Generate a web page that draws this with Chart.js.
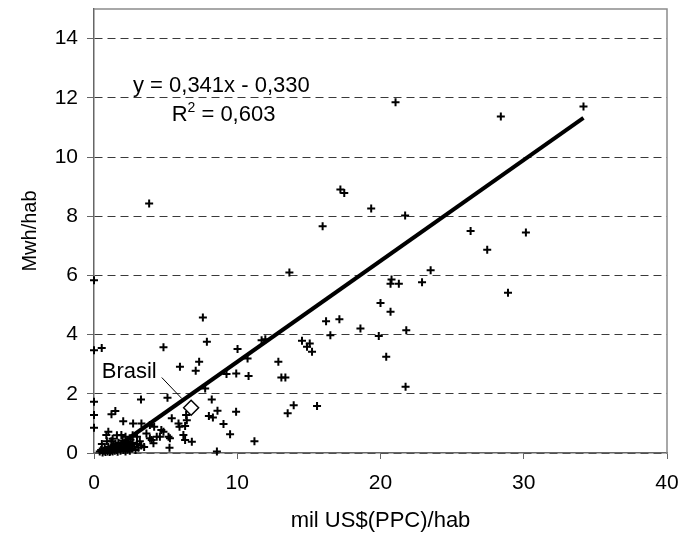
<!DOCTYPE html>
<html><head><meta charset="utf-8">
<script src="https://cdn.jsdelivr.net/npm/chart.js@4"></script>
<style>html,body{margin:0;padding:0;background:#fff}</style>
</head><body>
<canvas id="c" width="689" height="534"></canvas>
<script>
// ---- data ----
const gdpPerCapita = [
 21.05,28.4,34.17,3.85,17.2,17.47,19.35,15.96,21.72,26.29,30.15,27.45,23.5,22.9,20.77,20.7,21.28,28.9,13.64,0,
 20.0,20.7,16.2,17.13,18.6,16.5,19.88,21.8,14.52,14.87,15.06,15.22,20.4,12.87,13.08,13.36,21.75,13.94,13.52,15.57,11.7,11.96,
 7.6,7.88,6.0,7.34,7.1,10.02,10.72,9.25,9.93,10.79,7.76,8.22,8.62,8.02,8.3,9.92,9.04,9.5,11.2,8.58,
 6.43,6.48,6.36,6.24,6.36,6.83,4.85,5.13,5.43,5.9,5.97,4.85,5.2,4.38,4.03,4.15,5.27,3.9,4.2,
 0,0.54,0,0,0,3.28,1.22,1.49,2.04,2.73,3.31,1.0,0.86,1.21,1.91,3.66,3.9,4.6,5.3,4.7,
 0.4,0.5,0.6,0.7,0.75,0.8,0.9,0.95,1.0,1.05,1.1,1.15,1.2,1.25,1.3,1.35,1.4,1.45,1.5,1.55,1.6,1.65,1.7,1.75,1.8,1.85,1.9,1.95,
 2.0,2.05,2.1,2.15,2.2,2.25,2.3,2.35,2.4,2.45,2.5,2.55,2.6,2.65,2.7,2.8,2.9,3.0,3.1,3.2,3.3,0.55,0.9,1.3,2.7,2.2,1.6,3.5,3.0
];
const mwhPerCapita = [
 11.85,11.37,11.71,8.43,8.9,8.78,8.26,7.66,8.02,7.5,7.45,6.87,6.17,5.77,5.86,5.72,5.72,5.41,6.1,5.84,
 5.07,4.77,4.45,4.52,4.21,3.98,3.95,4.15,3.79,3.59,3.7,3.42,3.25,3.08,2.55,2.55,2.24,1.61,1.34,1.59,3.81,3.84,
 4.58,3.76,2.91,3.08,2.78,3.51,3.19,2.67,2.69,2.6,2.18,1.81,1.43,1.25,1.2,1.39,0.98,0.63,0.4,0.05,
 1.28,1.11,0.91,0.61,0.44,0.38,3.57,1.87,1.17,1.0,0.89,0.72,0.55,0.55,0.44,0.33,0.18,0.95,0.89,
 3.47,3.55,1.73,1.28,0.85,1.81,1.31,1.42,1.07,1.0,1.0,0.72,0.61,0.4,0.61,0.66,0.5,0.55,0.5,0.78,
 0.05,0.1,0.02,0.08,0.15,0.03,0.1,0.05,0.2,0.12,0.03,0.07,0.18,0.1,0.05,0.25,0.14,0.08,0.3,0.2,0.1,0.04,0.35,0.22,0.15,0.08,0.28,0.18,
 0.42,0.1,0.3,0.2,0.05,0.38,0.25,0.12,0.32,0.18,0.08,0.45,0.28,0.15,0.35,0.22,0.1,0.3,0.18,0.4,0.25,0.3,0.4,0.48,0.6,0.55,0.6,0.2,0.55
];
const brasilX = [6.78];
const brasilY = [1.53];
const trendX = [0.97, 34.17];
const trendY = [0.0, 11.32];
const leaderX = [4.73, 6.13];
const leaderY = [2.55, 1.84];
const xTickValues = [0, 10, 20, 30, 40];
const yTickValues = [0, 2, 4, 6, 8, 10, 12, 14];
const equationText = 'y = 0,341x - 0,330';
const r2Value = '0,603';
const brasilLabel = 'Brasil';
const xTitle = 'mil US$(PPC)/hab';
const yTitle = 'Mwh/hab';

// ---- annotation anchors (data units) ----
const eqAnchor = {x: 2.72, y: 12.18};
const r2Anchor = {x: 5.42, y: 11.21};
const brasilAnchor = {x: 0.54, y: 2.53};

const FONT = 'Liberation Sans';
const pts = gdpPerCapita.map((x, i) => ({x: x, y: mwhPerCapita[i]}));
const toXY = (xs, ys) => xs.map((x, i) => ({x: x, y: ys[i]}));

const framePlugin = {
  id: 'frame',
  beforeDatasetsDraw(chart) {
    const a = chart.chartArea, ctx = chart.ctx;
    ctx.save();
    ctx.strokeStyle = '#8c8c8c';
    ctx.lineWidth = 1.5;
    ctx.beginPath();
    ctx.moveTo(a.left, a.top);
    ctx.lineTo(a.right, a.top);
    ctx.lineTo(a.right, a.bottom);
    ctx.stroke();
    ctx.restore();
  }
};

const textPlugin = {
  id: 'texts',
  afterDatasetsDraw(chart) {
    const ctx = chart.ctx, xs = chart.scales.x, ys = chart.scales.y;
    ctx.save();
    ctx.fillStyle = '#000';
    ctx.textBaseline = 'alphabetic';
    ctx.textAlign = 'left';
    ctx.font = '22px "' + FONT + '"';
    ctx.fillText(equationText, xs.getPixelForValue(eqAnchor.x), ys.getPixelForValue(eqAnchor.y));
    let px = xs.getPixelForValue(r2Anchor.x), py = ys.getPixelForValue(r2Anchor.y);
    ctx.fillText('R', px, py);
    px += ctx.measureText('R').width;
    ctx.font = '14px "' + FONT + '"';
    ctx.fillText('2', px, py - 9);
    px += ctx.measureText('2').width;
    ctx.font = '22px "' + FONT + '"';
    ctx.fillText(' = ' + r2Value, px, py);
    ctx.fillText(brasilLabel, xs.getPixelForValue(brasilAnchor.x), ys.getPixelForValue(brasilAnchor.y));
    ctx.restore();
  }
};

new Chart(document.getElementById('c'), {
  data: {
    datasets: [
      {type: 'scatter', data: toXY(brasilX, brasilY), pointStyle: 'rectRot', pointRadius: 7.5,
       backgroundColor: '#fff', borderColor: '#000', borderWidth: 1.5, clip: false},
      {type: 'line', data: toXY(trendX, trendY), borderColor: '#000', borderWidth: 4,
       pointRadius: 0, fill: false, clip: false},
      {type: 'line', data: toXY(leaderX, leaderY), borderColor: '#000', borderWidth: 1,
       pointRadius: 0, fill: false},
      {type: 'scatter', data: pts, pointStyle: 'cross', pointRadius: 4,
       borderColor: '#000', backgroundColor: '#000', borderWidth: 2, clip: false}
    ]
  },
  options: {
    responsive: false,
    animation: false,
    devicePixelRatio: 1,
    layout: {padding: {top: 8, right: 22, left: 0, bottom: 0}},
    plugins: {legend: {display: false}, tooltip: {enabled: false}},
    scales: {
      x: {
        type: 'linear', min: 0, max: 40, position: 'bottom',
        afterFit(s) { s.height = 81; s.paddingLeft = 0; s.paddingRight = 0; },
        afterBuildTicks(s) { s.ticks = xTickValues.map(v => ({value: v})); },
        grid: {drawOnChartArea: false, drawTicks: true, tickLength: 6, tickColor: '#666', tickWidth: 1},
        border: {display: true, color: '#666', width: 1.5},
        ticks: {font: {family: FONT, size: 21}, color: '#000', padding: 12, maxRotation: 0},
        title: {display: true, text: xTitle, font: {family: FONT, size: 22}, color: '#000',
                padding: {top: 2, bottom: 0}}
      },
      y: {
        type: 'linear', min: 0, max: 15, position: 'left',
        afterFit(s) { s.width = 94; s.paddingTop = 0; s.paddingBottom = 0; },
        afterBuildTicks(s) { s.ticks = yTickValues.map(v => ({value: v})); },
        grid: {color: '#3a3a3a', lineWidth: 1, drawTicks: true, tickLength: 7, tickColor: '#666',
               tickWidth: 1, borderDash: [8, 5]},
        border: {display: true, color: '#666', width: 1.5, dash: [8, 5]},
        ticks: {font: {family: FONT, size: 21}, color: '#000', padding: 9},
        title: {display: true, text: yTitle, font: {family: FONT, size: 20}, color: '#000',
                padding: {top: 18, bottom: 0}}
      }
    }
  },
  plugins: [framePlugin, textPlugin]
});
</script>
</body></html>
